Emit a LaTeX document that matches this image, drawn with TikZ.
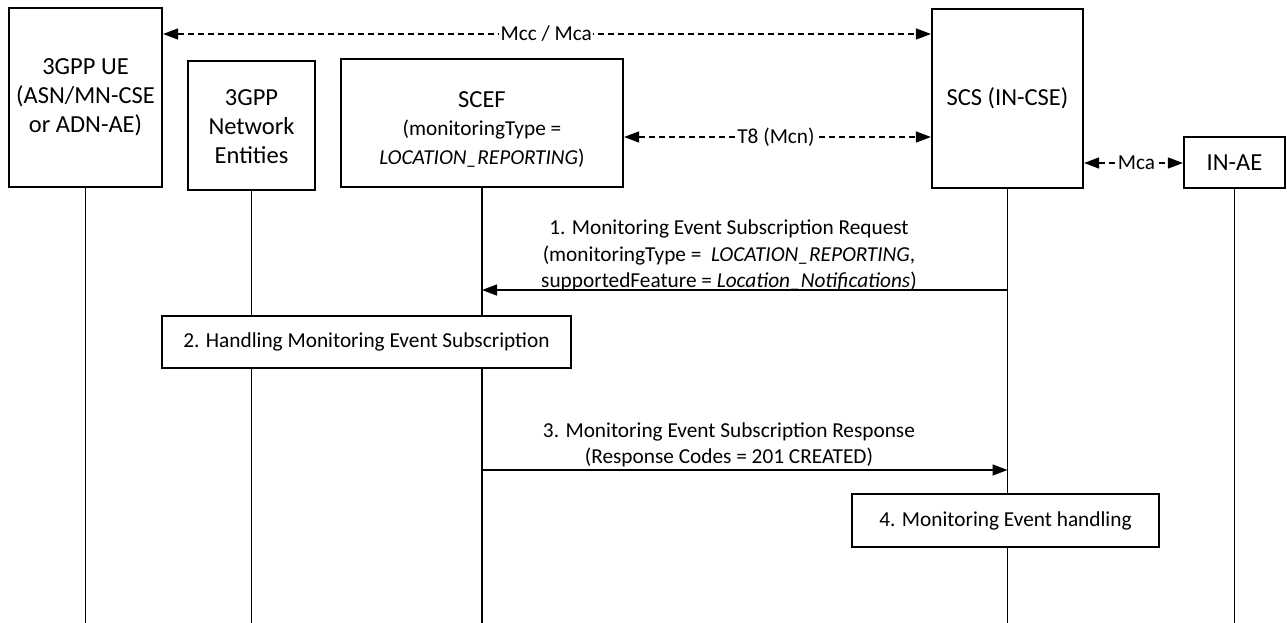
\documentclass[tikz,border=0pt]{standalone}
\usepackage{fontspec}
\setmainfont{Carlito}
\usetikzlibrary{arrows.meta}
\begin{document}
\begin{tikzpicture}[x=1pt,y=-1pt,
 ent/.style={draw,fill=white,line width=2.2pt,inner sep=0pt,align=center,font=\fontsize{24.5}{29}\selectfont},
 life/.style={line width=1.4pt},
 tip/.tip={Triangle[length=15pt,width=11pt]},
 msg/.style={line width=1.4pt,-tip},
 iface/.style={line width=1.4pt,dash pattern=on 6pt off 4pt,tip-tip},
 ilab/.style={fill=white,inner sep=1.5pt,font=\fontsize{21.3}{25}\selectfont},
 act/.style={draw,fill=white,line width=1.7pt,inner sep=0pt,font=\fontsize{21.3}{25}\selectfont},
 mlab/.style={align=center,inner sep=3pt,font=\fontsize{21.3}{26.5}\selectfont}]
\useasboundingbox (0,0) rectangle (1287,623);
% entities
\node[ent,minimum width=153pt,minimum height=179pt] (ue) at (85.5,97.5) {3GPP UE\\(ASN/MN-CSE\\or ADN-AE)};
\node[ent,minimum width=127pt,minimum height=129pt] (ne) at (251.5,125.5) {\rule{0pt}{19pt}3GPP\\Network\\Entities};
\node[ent,minimum width=282pt,minimum height=128pt] (scef) at (482,123) {\rule{0pt}{28pt}SCEF\\[-1pt]{\fontsize{21.3}{26}\selectfont (monitoringType =}\\{\fontsize{21.3}{26}\selectfont\textit{LOCATION\_REPORTING})}};
\node[ent,minimum width=151pt,minimum height=179pt] (scs) at (1007.5,98.5) {SCS (IN-CSE)};
\node[ent,minimum width=101pt,minimum height=51pt] (inae) at (1234.5,162.5) {IN-AE};
% rows
\coordinate (bot) at (0,623);
\coordinate (i1) at (0,34);
\coordinate (i2) at (0,137);
\coordinate (i3) at (0,163);
\coordinate (r1) at (0,290);
\coordinate (r3) at (0,470);
% lifelines
\draw[life] (ue.south) -- (ue.south |- bot);
\draw[life] (ne.south) -- (ne.south |- bot);
\draw[life] (scef.south) -- (scef.south |- bot);
\draw[life] (scs.south) -- (scs.south |- bot);
\draw[life] (inae.south) -- (inae.south |- bot);
% interfaces
\draw[iface] (ue.east |- i1) -- node[ilab,pos=0.499] {Mcc / Mca} (scs.west |- i1);
\draw[iface] (scef.east |- i2) -- node[ilab,pos=0.495] {T8 (Mcn)} (scs.west |- i2);
\draw[iface] (scs.east |- i3) -- node[ilab,pos=0.53] {Mca} (inae.west |- i3);
% messages
\draw[msg] (scs.south |- r1) -- node[mlab,pos=0.53,above,yshift=-5pt] {1. Monitoring Event Subscription Request\\(monitoringType = \ \textit{LOCATION\_REPORTING},\\supportedFeature = \textit{Location\_Notifications})} (scef.south |- r1);
\node[act,minimum width=409pt,minimum height=52pt] (h2) at (366.5,342) {2. Handling Monitoring Event Subscription};
\draw[msg] (scef.south |- r3) -- node[mlab,pos=0.47,above,yshift=-1pt] {3. Monitoring Event Subscription Response\\(Response Codes = 201 CREATED)} (scs.south |- r3);
\node[act,minimum width=307pt,minimum height=53pt] (h4) at (1005.5,520.5) {4. Monitoring Event handling};
\end{tikzpicture}
\end{document}
